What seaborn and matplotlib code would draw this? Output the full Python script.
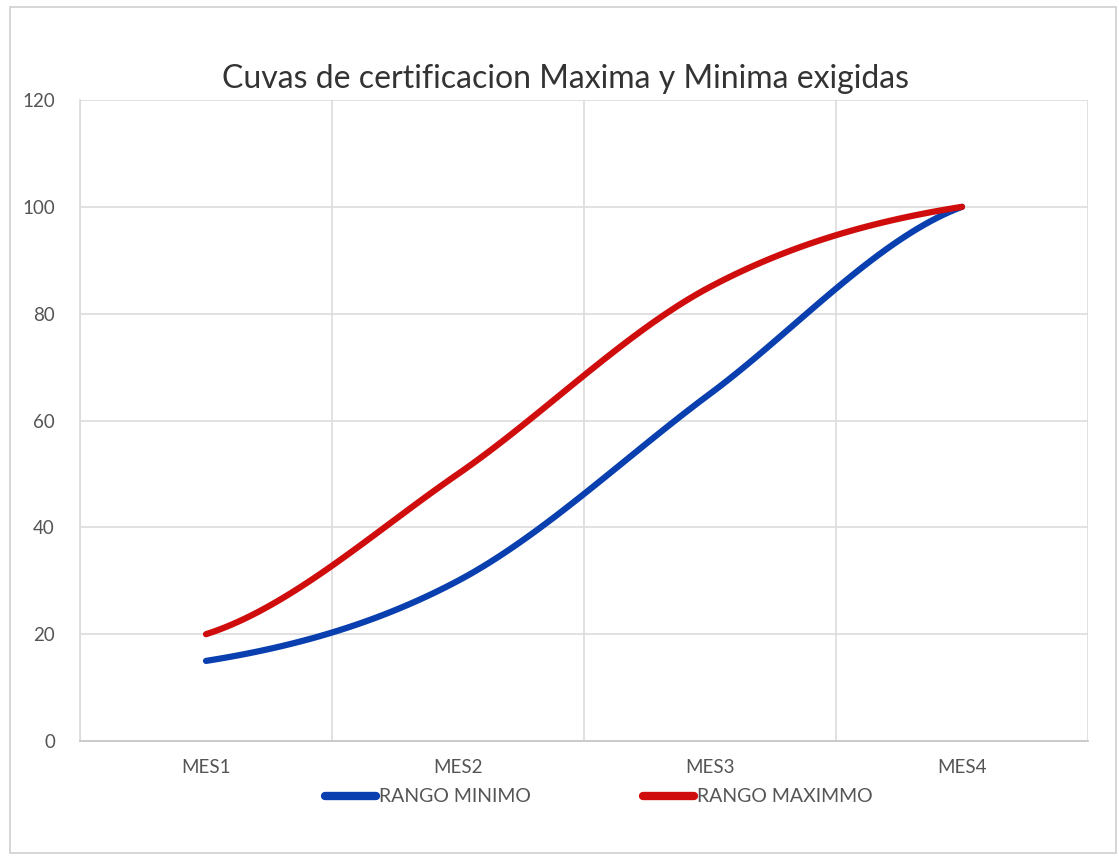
import numpy as np
import pandas as pd
import matplotlib
matplotlib.use("Agg")
import matplotlib.pyplot as plt
from matplotlib.patches import Rectangle
from matplotlib.lines import Line2D
import seaborn as sns

# datos
meses = ["MES1", "MES2", "MES3", "MES4"]
rango_minimo = [15, 30, 65, 100]
rango_maximo = [20, 50, 85, 100]


def suavizar(y, n=40):
    # curva suave tipo Excel (Catmull-Rom) que pasa por los puntos
    y = np.asarray(y, dtype=float)
    p = np.concatenate([[y[0]], y, [y[-1]]])
    xs, ys = [], []
    for i in range(len(y) - 1):
        t = np.linspace(0, 1, n, endpoint=False)
        p0, p1, p2, p3 = p[i], p[i + 1], p[i + 2], p[i + 3]
        c1 = p1 + (p2 - p0) / 6
        c2 = p2 - (p3 - p1) / 6
        b = ((1 - t) ** 3 * p1 + 3 * (1 - t) ** 2 * t * c1
             + 3 * (1 - t) * t ** 2 * c2 + t ** 3 * p2)
        xs.append(i + t)
        ys.append(b)
    xs.append([len(y) - 1])
    ys.append([y[-1]])
    return np.concatenate(xs), np.concatenate(ys)


filas = []
for nombre, serie in [("RANGO MINIMO", rango_minimo), ("RANGO MAXIMMO", rango_maximo)]:
    xs, ys = suavizar(serie)
    filas.append(pd.DataFrame({"x": xs, "valor": ys, "serie": nombre}))
df = pd.concat(filas, ignore_index=True)

sns.set_theme(style="white")
plt.rcParams["font.family"] = ["Lato", "DejaVu Sans"]

fig = plt.figure(figsize=(11.19, 8.56), dpi=100)
ax = fig.add_axes([0.0715, 0.1343, 0.9008, 0.7489])

colores = {"RANGO MINIMO": "#0a3fb0", "RANGO MAXIMMO": "#d00d0d"}
sns.lineplot(data=df, x="x", y="valor", hue="serie", ax=ax,
             palette=colores, linewidth=4.5, sort=False, estimator=None,
             legend=False, solid_capstyle="round")

ax.set_xlim(-0.5, 3.5)
ax.set_ylim(0, 120)
ax.set_yticks(range(0, 121, 20))
ax.set_xticks(range(len(meses)))
ax.set_xticklabels(meses)
ax.set_xticks(np.arange(-0.5, 3.6, 1), minor=True)
ax.grid(True, which="minor", axis="x", color="#dcdcdc", linewidth=1.2)
ax.grid(True, which="major", axis="y", color="#dcdcdc", linewidth=1.2)
ax.set_axisbelow(True)
ax.tick_params(axis="both", which="both", length=0, labelsize=13.5,
               colors="#555555", pad=13)
ax.tick_params(axis="y", pad=18)
ax.set_xlabel("")
ax.set_ylabel("")
for s in ["top", "right"]:
    ax.spines[s].set_visible(False)
ax.spines["left"].set_color("#dcdcdc")
ax.spines["bottom"].set_color("#c8c8c8")
ax.spines["bottom"].set_linewidth(1.3)

fig.text(0.505, 0.908, "Cuvas de certificacion Maxima y Minima exigidas",
         fontsize=23, color="#333333", ha="center", va="center")

handles = [Line2D([], [], color=colores["RANGO MINIMO"], linewidth=6, solid_capstyle="round"),
           Line2D([], [], color=colores["RANGO MAXIMMO"], linewidth=6, solid_capstyle="round")]
leg = fig.legend(handles, ["RANGO MINIMO", "RANGO MAXIMMO"], ncol=2,
                 loc="center", bbox_to_anchor=(0.535, 0.069), frameon=False,
                 fontsize=14, handlelength=2.6, handletextpad=0.15,
                 columnspacing=5.8)
for t in leg.get_texts():
    t.set_color("#555555")

fig.patches.append(Rectangle((0.009, 0.004), 0.988, 0.988, transform=fig.transFigure,
                             fill=False, edgecolor="#d0d0d0", linewidth=1.2))

fig.savefig("out.png", dpi=100)
